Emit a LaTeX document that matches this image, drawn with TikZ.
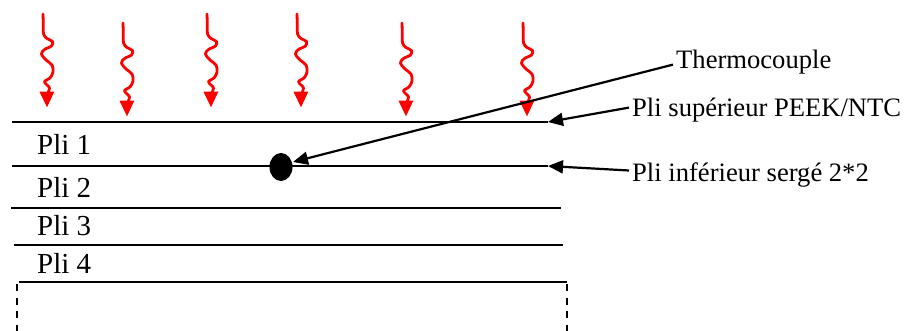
\documentclass[tikz,border=0pt]{standalone}
\usepackage{fontspec}
\setmainfont{Liberation Serif}
\usetikzlibrary{arrows.meta,shapes.geometric}
\tikzset{
  ply/.style={line width=2.2pt,black},
  base/.style={line width=1.6pt,black,dash pattern=on 7pt off 6.5pt},
  leader/.style={line width=2.2pt,black,-{Triangle[length=15pt,width=13pt]},shorten >=0pt},
  plilabel/.style={anchor=base west,inner sep=0pt,font=\fontsize{29}{34}\selectfont},
  sidelabel/.style={anchor=base west,inner xsep=3pt,inner ysep=0pt,font=\fontsize{26.6}{31}\selectfont},
  heatray/.pic={
    \draw[red,line width=2.8pt,line cap=round,line join=round]
      plot[smooth,tension=0.55] coordinates {(0,0) (0.3,10) (0.6,20) (4,24.5) (9.5,27.5) (8.5,32) (1.5,35.5) (-1.5,40) (3,46) (9,51) (10,58) (7,64) (1.5,67.5) (4,71) (6.5,74) (5,79)};
    \fill[red] (-3.5,77.7) -- (11.3,77.7) -- (4,93.3) -- cycle;
  }
}
\begin{document}
\begin{tikzpicture}[x=1pt,y=-1pt]
\useasboundingbox (0,0) rectangle (910,331);
% heat rays
\pic at (43,14) {heatray};
\pic at (123,23) {heatray};
\pic at (207,14) {heatray};
\pic at (297,14) {heatray};
\pic at (402,23) {heatray};
\pic at (523,23) {heatray};
% ply lines
\coordinate (l1a) at (12,122); \coordinate (l1b) at (548,122);
\coordinate (l2a) at (12,166); \coordinate (l2b) at (548,166);
\coordinate (l3a) at (11,208); \coordinate (l3b) at (561,208);
\coordinate (l4a) at (14,245); \coordinate (l4b) at (563,245);
\coordinate (l5a) at (19,282); \coordinate (l5b) at (567,282);
\draw[ply] (l1a) -- (l1b);
\draw[ply] (l2a) -- (l2b);
\draw[ply] (l3a) -- (l3b);
\draw[ply] (l4a) -- (l4b);
\draw[ply] (l5a) -- (l5b);
% dashed support
\coordinate (dla) at (17,284); \coordinate (dlb) at (17,333);
\coordinate (dra) at (567,284); \coordinate (drb) at (567,333);
\draw[base] (dla) -- (dlb);
\draw[base] (dra) -- (drb);
% ply labels
\node[plilabel] (p1) at (37,155) {Pli 1};
\node[plilabel] (p2) at (37,197) {Pli 2};
\node[plilabel] (p3) at (37,235) {Pli 3};
\node[plilabel] (p4) at (37,273) {Pli 4};
% thermocouple
\node[draw=none,fill=black,ellipse,minimum width=23pt,minimum height=28pt,inner sep=0pt] (tc) at (281,167) {};
\coordinate (tctip) at (293,162);
% side labels
\node[sidelabel] (thermo) at (673,69) {Thermocouple};
\node[sidelabel] (sup) at (629,117) {Pli supérieur PEEK/NTC};
\node[sidelabel] (inf) at (629,182) {Pli inférieur sergé 2*2};
\draw[leader] ([yshift=-2pt]thermo.west) -- (tctip);
\draw[leader] ([yshift=3pt]sup.west) -- (l1b);
\draw[leader] ([yshift=5pt]inf.west) -- (l2b);
\end{tikzpicture}
\end{document}
